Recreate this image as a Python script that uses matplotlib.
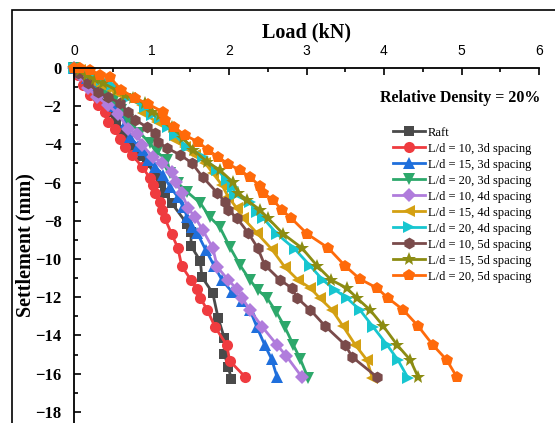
import numpy as np
import matplotlib
matplotlib.use('Agg')
import matplotlib.pyplot as plt
from matplotlib.patches import Rectangle

# Load (kN) and settlement (mm)
raft_x = [0, 0.08, 0.15, 0.23, 0.31, 0.39, 0.46, 0.54, 0.62, 0.70, 0.77, 0.85, 0.94,
          1.06, 1.12, 1.17, 1.26, 1.46, 1.51, 1.51, 1.63, 1.65, 1.79, 1.86, 1.94, 1.94,
          1.99, 2.03]
raft_y = [0, -0.26, -0.63, -1.05, -1.47, -1.88, -2.30, -2.77, -3.25, -3.72, -4.19, -4.61,
          -4.97, -5.60, -6.02, -6.54, -7.07, -8.17, -8.59, -9.32, -10.10, -10.94, -11.78,
          -13.09, -14.14, -14.97, -15.65, -16.28]

l10_3d_x = [0, 0.05, 0.12, 0.21, 0.31, 0.40, 0.44, 0.53, 0.59, 0.66, 0.75, 0.88, 0.98,
            1.02, 1.05, 1.11, 1.14, 1.17, 1.26, 1.34, 1.39, 1.51, 1.59, 1.63, 1.72, 1.82,
            1.97, 2.01, 2.21]
l10_3d_y = [0, -0.37, -0.89, -1.41, -1.94, -2.30, -2.83, -3.19, -3.72, -4.14, -4.55,
            -5.18, -5.76, -6.13, -6.54, -7.02, -7.43, -7.85, -8.69, -9.42, -10.37, -11.10,
            -11.57, -12.04, -12.67, -13.56, -14.50, -15.34, -16.18]

l15_3d_x = [0, 0.08, 0.17, 0.26, 0.35, 0.44, 0.53, 0.62, 0.67, 0.72, 0.83, 0.89, 0.95,
            1.05, 1.15, 1.24, 1.34, 1.41, 1.46, 1.52, 1.59, 1.70, 1.81, 1.91, 2.04, 2.17,
            2.27, 2.36, 2.46, 2.55, 2.62]
l15_3d_y = [0, -0.21, -0.52, -0.89, -1.26, -1.62, -1.99, -2.30, -2.83, -3.61, -4.08,
            -4.29, -4.82, -5.18, -5.60, -6.23, -6.75, -7.28, -7.80, -8.32, -8.64, -9.53,
            -10.37, -11.10, -11.73, -12.20, -12.67, -13.56, -14.50, -15.24, -16.18]

l20_3d_x = [0, 0.10, 0.21, 0.31, 0.41, 0.52, 0.61, 0.70, 0.85, 0.98, 1.07, 1.20, 1.24,
            1.34, 1.46, 1.63, 1.75, 1.88, 2.01, 2.14, 2.27, 2.37, 2.49, 2.61, 2.72, 2.83,
            2.92, 3.02]
l20_3d_y = [0, -0.31, -0.63, -0.94, -1.31, -1.68, -2.20, -2.72, -3.40, -3.93, -4.40,
            -4.82, -5.50, -6.02, -6.49, -7.07, -7.80, -8.32, -9.37, -10.31, -11.10, -11.62,
            -12.04, -12.77, -13.56, -14.50, -15.24, -16.23]

l10_4d_x = [0, 0.08, 0.18, 0.30, 0.44, 0.57, 0.70, 0.81, 0.88, 1.02, 1.14, 1.27, 1.32,
            1.39, 1.47, 1.56, 1.66, 1.79, 1.85, 1.99, 2.10, 2.17, 2.27, 2.43, 2.62, 2.74,
            2.94]
l10_4d_y = [0, -0.37, -1.05, -1.52, -1.94, -2.41, -3.19, -3.46, -4.03, -4.66, -4.97,
            -5.45, -5.97, -6.54, -7.33, -7.80, -8.48, -9.42, -10.42, -11.10, -11.57, -12.04,
            -12.67, -13.56, -14.50, -15.08, -16.18]

l15_4d_x = [0, 0.08, 0.18, 0.25, 0.40, 0.55, 0.72, 0.88, 0.89, 1.07, 1.24, 1.30, 1.43,
            1.56, 1.69, 1.79, 1.91, 1.99, 2.10, 2.18, 2.36, 2.55, 2.72, 2.89, 3.05, 3.17,
            3.33, 3.47, 3.63, 3.78, 3.85]
l15_4d_y = [0, -0.10, -0.31, -0.73, -0.99, -1.31, -1.57, -1.94, -2.36, -2.83, -3.14,
            -3.77, -4.14, -4.55, -4.97, -5.50, -6.13, -6.75, -7.33, -7.85, -8.64, -9.48,
            -10.42, -11.10, -11.52, -12.04, -12.67, -13.51, -14.50, -15.29, -16.23]

l20_4d_x = [0, 0.10, 0.23, 0.36, 0.49, 0.70, 0.92, 1.01, 1.11, 1.21, 1.30, 1.46, 1.66,
            1.85, 1.97, 2.05, 2.08, 2.27, 2.36, 2.44, 2.62, 2.85, 3.05, 3.21, 3.37, 3.52,
            3.69, 3.86, 4.04, 4.18, 4.31]
l20_4d_y = [0, -0.10, -0.42, -0.63, -0.89, -1.57, -2.04, -2.46, -2.62, -3.09, -3.51,
            -4.14, -4.66, -5.34, -5.86, -6.23, -6.65, -7.02, -7.54, -7.85, -8.69, -9.48,
            -10.37, -11.10, -11.62, -12.04, -12.67, -13.56, -14.50, -15.29, -16.23]

l10_5d_x = [0, 0.05, 0.18, 0.31, 0.44, 0.59, 0.70, 0.79, 0.94, 1.05, 1.08, 1.20, 1.37,
            1.52, 1.66, 1.85, 1.95, 1.99, 2.10, 2.25, 2.37, 2.46, 2.66, 2.81, 2.88, 3.05,
            3.24, 3.50, 3.59, 3.91]
l10_5d_y = [0, -0.26, -0.79, -1.26, -1.52, -1.83, -2.30, -2.72, -3.09, -3.40, -3.87,
            -4.19, -4.55, -4.97, -5.71, -6.54, -7.02, -7.43, -7.85, -8.64, -9.42, -10.31,
            -11.10, -11.52, -12.04, -12.67, -13.51, -14.50, -15.13, -16.18]

l15_5d_x = [0, 0.08, 0.17, 0.27, 0.37, 0.55, 0.66, 0.76, 0.92, 1.01, 1.11, 1.26, 1.41,
            1.54, 1.72, 1.88, 2.05, 2.12, 2.23, 2.40, 2.50, 2.70, 2.94, 3.14, 3.32, 3.52,
            3.65, 3.82, 3.99, 4.17, 4.34, 4.44]
l15_5d_y = [0, -0.10, -0.37, -0.58, -0.79, -1.15, -1.41, -1.57, -1.83, -2.30, -2.46,
            -3.09, -3.66, -4.29, -4.92, -5.34, -5.97, -6.54, -6.91, -7.43, -7.85, -8.69,
            -9.42, -10.37, -11.10, -11.52, -12.04, -12.67, -13.51, -14.50, -15.29, -16.18]

l20_5d_x = [0, 0.08, 0.21, 0.34, 0.46, 0.61, 0.79, 0.95, 1.15, 1.17, 1.29, 1.43, 1.60,
            1.73, 1.86, 1.99, 2.14, 2.27, 2.40, 2.44, 2.57, 2.68, 2.80, 3.01, 3.28, 3.50,
            3.69, 3.91, 4.05, 4.25, 4.44, 4.63, 4.81, 4.94]
l20_5d_y = [0, 0, -0.10, -0.37, -0.47, -1.15, -1.57, -1.88, -2.30, -2.72, -3.09, -3.51,
            -3.87, -4.29, -4.66, -5.03, -5.34, -5.71, -6.18, -6.54, -6.91, -7.43, -7.85,
            -8.69, -9.42, -10.37, -11.05, -11.52, -12.04, -12.67, -13.51, -14.50, -15.29,
            -16.18]

labels = ['Raft', 'L/d = 10, 3d spacing', 'L/d = 15, 3d spacing', 'L/d = 20, 3d spacing',
          'L/d = 10, 4d spacing', 'L/d = 15, 4d spacing', 'L/d = 20, 4d spacing',
          'L/d = 10, 5d spacing', 'L/d = 15, 5d spacing', 'L/d = 20, 5d spacing']
xs = [raft_x, l10_3d_x, l15_3d_x, l20_3d_x, l10_4d_x, l15_4d_x, l20_4d_x,
      l10_5d_x, l15_5d_x, l20_5d_x]
ys = [raft_y, l10_3d_y, l15_3d_y, l20_3d_y, l10_4d_y, l15_4d_y, l20_4d_y,
      l10_5d_y, l15_5d_y, l20_5d_y]

colors = ['#4a4a4a', '#ef3b3f', '#1f6fdc', '#2da86b', '#b07cdc', '#d4a012',
          '#17c6d0', '#7a4b4b', '#8c8c12', '#ff6a0a']
markers = ['s', 'o', '^', 'v', 'D', '<', '>', 'h', '*', 'p']
msizes = [7.5, 8, 8, 8, 7, 8, 8, 8.5, 10, 9]

SERIF = 'Liberation Serif'
SANS = 'Liberation Sans'

if __name__ == '__main__':
  fig = plt.figure(figsize=(5.55, 4.23), dpi=100)

  # outer frame of the original figure (only top and left edges visible)
  fig.patches.append(Rectangle((12/555, -0.1), 1.2, 1 - 10/423 + 0.1,
                               transform=fig.transFigure, fill=False,
                               edgecolor='black', linewidth=1.2))

  ax = fig.add_axes([74/555, 0.0, (539 - 74)/555, 1 - 68/423])

  for x, y, c, m, ms, lab in zip(xs, ys, colors, markers, msizes, labels):
    ax.plot(x, y, color=c, marker=m, markersize=ms, linewidth=2,
            markeredgewidth=0, label=lab, clip_on=False)

  ax.set_xlim(0, 6)
  ax.set_ylim(-(423 - 68)/19.1, 0)
  ax.set_xticks(np.arange(0, 7, 1))
  ax.set_xticks(np.arange(0.5, 6, 1), minor=True)
  ax.set_yticks(np.arange(0, -19, -2))
  ax.set_yticks(np.arange(-1, -19, -2), minor=True)

  ax.xaxis.tick_top()
  ax.xaxis.set_label_position('top')
  ax.tick_params(axis='x', which='both', direction='in', top=True, bottom=False,
                 labelsize=10, pad=7, width=1.2)
  ax.tick_params(axis='y', which='both', direction='in', left=True, right=False,
                 pad=9, width=1.2)
  ax.tick_params(which='major', length=5)
  ax.tick_params(which='minor', length=3)
  for t in ax.get_xticklabels():
    t.set_fontfamily(SANS)
  for t in ax.get_yticklabels():
    t.set_fontfamily(SERIF)
    t.set_fontweight('bold')
    t.set_fontsize(12)

  ax.spines['right'].set_visible(False)
  ax.spines['bottom'].set_visible(False)
  ax.spines['top'].set_linewidth(1.3)
  ax.spines['left'].set_linewidth(1.3)

  ax.set_xlabel('Load (kN)', fontfamily=SERIF, fontweight='bold', fontsize=14.5,
                labelpad=5)
  ax.set_ylabel('Settlement (mm)', fontfamily=SERIF, fontweight='bold', fontsize=14.5,
                labelpad=0)

  ax.text(540/555, 1 - 98/423, 'Relative Density = 20%', transform=fig.transFigure,
          ha='right', va='center', fontfamily=SERIF, fontweight='bold', fontsize=11.5)

  ax.legend(loc='upper left', bbox_to_anchor=(384/555, 1 - 118/423),
            bbox_transform=fig.transFigure, frameon=False,
            prop={'family': SERIF, 'size': 9}, handlelength=2.6,
            handletextpad=0.2, labelspacing=0.32, borderpad=0.2)

  fig.savefig('out.png', dpi=100)
